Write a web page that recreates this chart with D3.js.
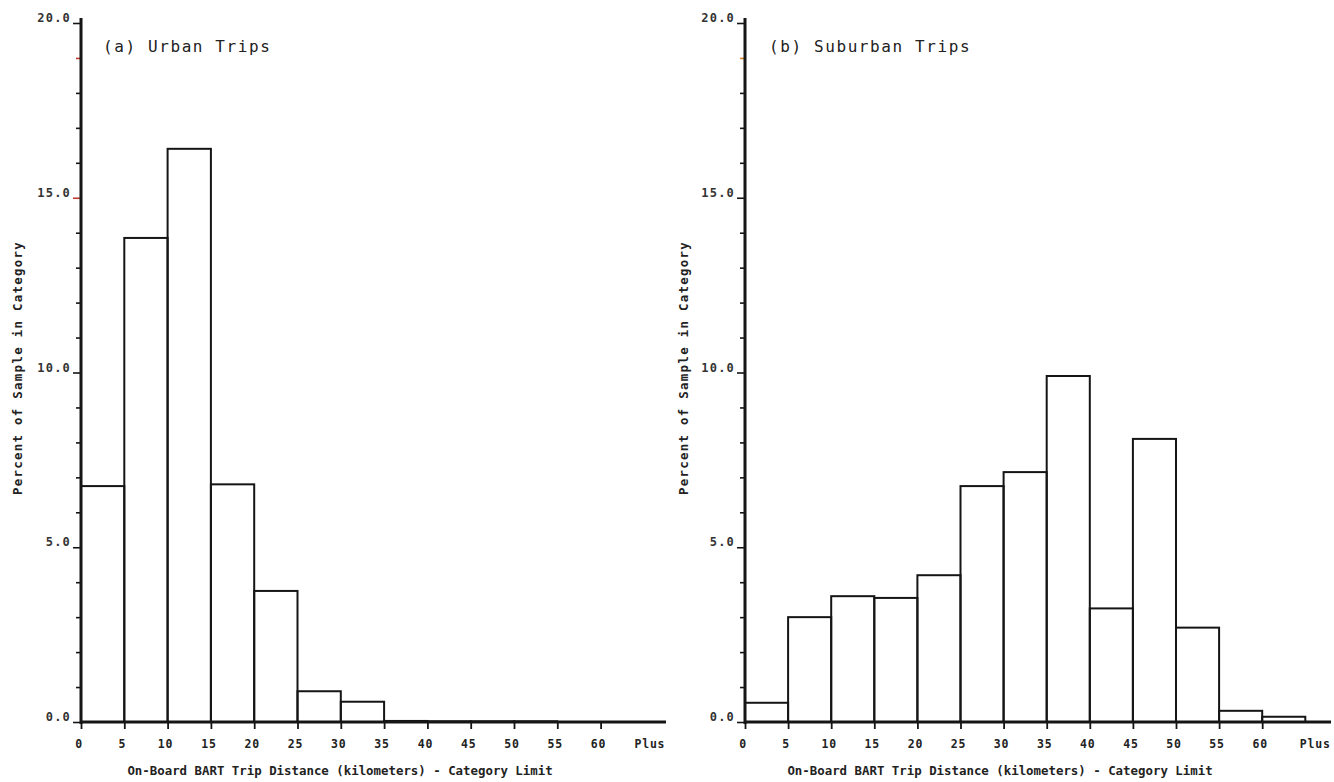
<!DOCTYPE html>
<html>
<head>
<meta charset="utf-8">
<script src="https://cdn.jsdelivr.net/npm/d3@7"></script>
<style>
  html, body { margin: 0; padding: 0; background: #fff; }
  svg { display: block; }
</style>
</head>
<body>
<svg id="chart" width="1334" height="782"></svg>
<script>
// ---- data ----
const binStarts = [0, 5, 10, 15, 20, 25, 30, 35, 40, 45, 50, 55, 60];
const binEnds   = [5, 10, 15, 20, 25, 30, 35, 40, 45, 50, 55, 60, 65];
const xTickValues = [0, 5, 10, 15, 20, 25, 30, 35, 40, 45, 50, 55, 60, 65];
const xTickLabels = ["0", "5", "10", "15", "20", "25", "30", "35", "40", "45", "50", "55", "60", "Plus"];
const yTickValues = [0, 5, 10, 15, 20];
const yTickLabels = ["0.0", "5.0", "10.0", "15.0", "20.0"];
const urbanValues    = [6.75, 13.85, 16.4, 6.8, 3.75, 0.88, 0.58, 0.03, 0.02, 0.02, 0.02, 0.0, 0.0];
const suburbanValues = [0.55, 3.0, 3.6, 3.55, 4.2, 6.75, 7.15, 9.9, 3.25, 8.1, 2.7, 0.32, 0.15];
const panelTitles = ["(a)  Urban Trips", "(b)  Suburban Trips"];
const xAxisTitle = "On-Board BART Trip Distance (kilometers) - Category Limit";
const yAxisTitle = "Percent of Sample in Category";

const svg = d3.select("#chart");
const ink = "#151515";
const mono = "'DejaVu Sans Mono', 'Liberation Mono', monospace";

function drawPanel(cfg) {
  const g = svg.append("g");
  const x = d3.scaleLinear().domain([0, 65]).range([cfg.x0, cfg.x0 + 13 * cfg.step]);
  const y = d3.scaleLinear().domain([0, 20]).range([722, 23]);

  // bars
  g.selectAll("rect.bar").data(cfg.values).enter().append("rect")
    .attr("class", "bar")
    .attr("x", (d, i) => x(binStarts[i]))
    .attr("width", (d, i) => x(binEnds[i]) - x(binStarts[i]))
    .attr("y", d => y(d))
    .attr("height", d => y(0) - y(d))
    .attr("fill", "none")
    .attr("stroke", ink)
    .attr("stroke-width", 2);

  // y axis (ticks on left, every 1.0)
  const yAxis = d3.axisLeft(y)
    .tickValues(d3.range(0, 21, 1))
    .tickSize(5)
    .tickFormat("");
  const ya = g.append("g").attr("transform", `translate(${x(0)},0)`).call(yAxis);
  ya.select(".domain").remove();
  ya.selectAll(".tick line")
    .attr("stroke", d => cfg.tickColors[d] || ink)
    .attr("stroke-width", 1.6)
    .attr("x2", d => d % 5 === 0 ? -8 : -5);
  g.append("line")
    .attr("x1", x(0)).attr("x2", x(0))
    .attr("y1", y(20) - 5).attr("y2", y(0) + 2)
    .attr("stroke", ink).attr("stroke-width", 3);
  // major tick labels
  g.selectAll("text.ylab").data(yTickValues).enter().append("text")
    .attr("class", "ylab")
    .attr("x", x(0) - 10)
    .attr("y", d => y(d) - 1)
    .attr("text-anchor", "end")
    .attr("font-family", mono)
    .attr("font-weight", "bold")
    .attr("font-size", 12)
    .attr("letter-spacing", 1.2)
    .attr("fill", "#333")
    .text((d, i) => yTickLabels[i]);

  // x axis
  const xAxis = d3.axisBottom(x)
    .tickValues(xTickValues.slice(0, 13))
    .tickSize(7)
    .tickFormat("");
  const xa = g.append("g").attr("transform", `translate(0,${y(0)})`).call(xAxis);
  xa.select(".domain").remove();
  xa.selectAll(".tick line").attr("stroke", ink).attr("stroke-width", 1.8);
  g.append("line")
    .attr("x1", x(0)).attr("x2", cfg.axisEnd)
    .attr("y1", y(0)).attr("y2", y(0))
    .attr("stroke", ink).attr("stroke-width", 3);
  g.selectAll("text.xlab").data(xTickValues).enter().append("text")
    .attr("class", "xlab")
    .attr("x", (d, i) => i === 13 ? x(d) + cfg.plusShift : x(d) - 2)
    .attr("y", 748)
    .attr("text-anchor", "middle")
    .attr("font-family", mono)
    .attr("font-weight", "bold")
    .attr("font-size", 11.5)
    .attr("letter-spacing", 0.8)
    .attr("fill", "#222")
    .text((d, i) => xTickLabels[i]);

  // titles
  g.append("text")
    .attr("x", cfg.titleX).attr("y", 52)
    .attr("font-family", mono)
    .attr("font-size", 16)
    .attr("letter-spacing", 1.6)
    .attr("fill", "#222")
    .text(cfg.title);
  g.append("text")
    .attr("x", cfg.xTitleX).attr("y", 775)
    .attr("text-anchor", "middle")
    .attr("font-family", mono)
    .attr("font-weight", "bold")
    .attr("font-size", 12.4)
    .attr("fill", "#222")
    .text(xAxisTitle);
  g.append("text")
    .attr("transform", `translate(${cfg.yTitleX},368) rotate(-90)`)
    .attr("text-anchor", "middle")
    .attr("font-family", mono)
    .attr("font-weight", "bold")
    .attr("font-size", 12.4)
    .attr("letter-spacing", 1.3)
    .attr("fill", "#222")
    .text(yAxisTitle);
}

drawPanel({ values: urbanValues, x0: 81, step: 43.3, axisEnd: 666, plusShift: 6,
            title: panelTitles[0], titleX: 103, xTitleX: 340, yTitleX: 22,
            tickColors: { 19: "#c0392b", 15: "#c0392b" } });
drawPanel({ values: suburbanValues, x0: 745, step: 43.1, axisEnd: 1331, plusShift: 10,
            title: panelTitles[1], titleX: 769, xTitleX: 1000, yTitleX: 688,
            tickColors: { 19: "#d9822b" } });
</script>
</body>
</html>
